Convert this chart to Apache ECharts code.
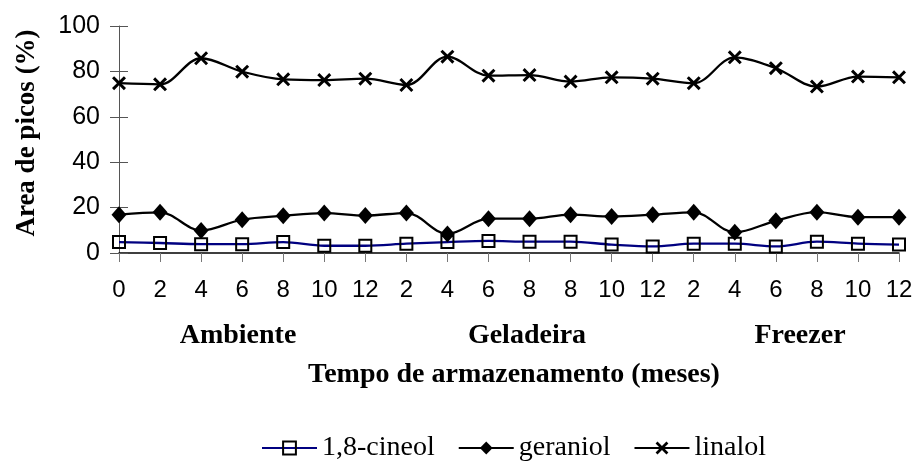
<!DOCTYPE html>
<html>
<head>
<meta charset="utf-8">
<script src="https://cdn.jsdelivr.net/npm/echarts@6/dist/echarts.min.js"></script>
<style>
html,body{margin:0;padding:0;background:#fff;}
#chart{width:916px;height:462px;}
</style>
</head>
<body>
<div id="chart"></div>
<script>
var categories = ['0','2','4','6','8','10','12','2','4','6','8','8','10','12','2','4','6','8','10','12'];
var cineol   = [4.8,4.4,3.9,3.9,4.8,3.2,3.2,4.1,4.8,5.3,5.0,5.0,3.7,2.9,4.1,4.1,2.9,5.0,4.1,3.7];
var geraniol = [16.9,17.9,9.9,14.7,16.4,17.6,16.5,17.6,8.4,15.1,15.1,16.9,16.1,16.9,17.9,9.1,14.2,18.0,15.8,15.8];
var linalol  = [74.8,74.3,85.8,79.9,76.5,76.2,76.8,74.0,86.5,78.1,78.4,75.5,77.4,76.8,74.8,86.2,81.4,73.3,77.7,77.4];
var seriesNames = ['1,8-cineol','geraniol','linalol'];
var groups = ['Ambiente','Geladeira','Freezer'];
var yTitle = 'Area de picos (%)';
var xTitle = 'Tempo de armazenamento (meses)';

var chart = echarts.init(document.getElementById('chart'), null, {renderer:'canvas'});
var serif = '"Liberation Serif", "Times New Roman", serif';
var sans = '"Liberation Sans", Arial, sans-serif';
var xPath = 'path://M0,1.8L1.8,0L6,4.2L10.2,0L12,1.8L7.8,6L12,10.2L10.2,12L6,7.8L1.8,12L0,10.2L4.2,6Z';

var groupPos = [238, 527, 800];

var option = {
  animation: false,
  backgroundColor: '#fff',
  grid: {left:119, right:17, top:26, bottom:209, containLabel:false, outerBoundsMode:'none'},
  legend: {
    left: 256, top: 429,
    itemWidth: 55, itemHeight: 16, itemGap: 23,
    textStyle: {fontFamily: serif, fontSize: 28, color:'#000'},
    data: seriesNames
  },
  xAxis: {
    type: 'category', data: categories, boundaryGap: false,
    axisLine: {lineStyle:{color:'#000', width:1.5}},
    axisTick: {show:true, interval:0, length:9, lineStyle:{color:'#777', width:1}},
    axisLabel: {interval:0, margin:25, fontFamily: sans, fontSize: 24, color:'#000'},
    splitLine: {show:false}
  },
  yAxis: [{
    type: 'value', min:0, max:100, interval:20,
    axisLine: {show:true, lineStyle:{color:'#555', width:1}},
    axisTick: {show:true, length:9, lineStyle:{color:'#555', width:1}},
    axisLabel: {margin:19, fontFamily: sans, fontSize: 25, color:'#000'},
    splitLine: {show:false}
  },{
    type: 'value', min:0, max:100, interval:20, position:'left',
    axisLine: {show:false},
    axisTick: {show:true, inside:true, length:9, lineStyle:{color:'#555', width:1}},
    axisLabel: {show:false},
    splitLine: {show:false}
  }],
  series: [
    {
      name: seriesNames[0], type:'line', data: cineol, smooth:0.35,
      symbol:'rect', symbolSize:12,
      lineStyle:{color:'#000080', width:2.3},
      itemStyle:{color:'rgba(255,255,255,0)', borderColor:'#000', borderWidth:2}
    },
    {
      name: seriesNames[1], type:'line', data: geraniol, smooth:0.35,
      symbol:'diamond', symbolSize:[15,17],
      lineStyle:{color:'#000', width:2.3},
      itemStyle:{color:'#000', borderColor:'#000', borderWidth:0}
    },
    {
      name: seriesNames[2], type:'line', data: linalol, smooth:0.35,
      symbol: xPath, symbolSize:14,
      lineStyle:{color:'#000', width:2.3},
      itemStyle:{color:'#000', borderColor:'#000', borderWidth:0}
    }
  ],
  graphic: [
    {type:'text', x:27, y:133, rotation:Math.PI/2,
     style:{text:yTitle, font:'bold 27px ' + serif, fill:'#000', align:'center', verticalAlign:'middle'}},
    {type:'text', x:514, y:375,
     style:{text:xTitle, font:'bold 28px ' + serif, fill:'#000', align:'center', verticalAlign:'middle'}}
  ].concat(groups.map(function(g, i){
    return {type:'text', x:groupPos[i], y:336,
      style:{text:g, font:'bold 28px ' + serif, fill:'#000', align:'center', verticalAlign:'middle'}};
  }))
};
chart.setOption(option);
</script>
</body>
</html>
